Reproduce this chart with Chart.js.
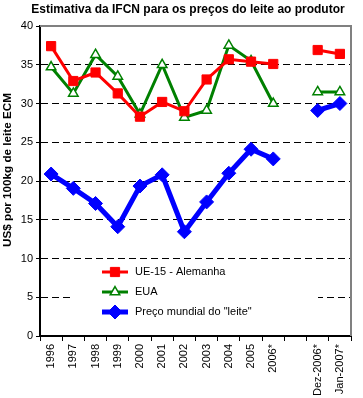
<!DOCTYPE html>
<html><head><meta charset="utf-8">
<script src="https://cdn.jsdelivr.net/npm/chart.js@4/dist/chart.umd.min.js"></script>
<style>html,body{margin:0;padding:0;background:#fff}#wrap{width:363px;height:398px}</style>
</head><body><div id="wrap"><canvas id="c" width="363" height="398"></canvas></div>
<script>
const categories = ['1996','1997','1998','1999','2000','2001','2002','2003','2004','2005','2006*','','Dez-2006*','Jan-2007*'];
const ue15 = [37.4,32.9,34.0,31.3,28.3,30.2,29.0,33.1,35.7,35.4,35.1,null,36.9,36.4];
const eua = [34.7,31.3,36.3,33.5,28.6,35.0,28.2,29.1,37.5,35.5,30.0,null,31.5,31.5];
const mundial = [20.9,19.05,17.1,14.1,19.35,20.8,13.45,17.3,21.0,24.1,22.85,null,29.1,30.0];
const seriesNames = ['UE-15 - Alemanha','EUA','Preço mundial do "leite"'];
const chartTitle = 'Estimativa da IFCN para os preços do leite ao produtor';
const yTitle = 'US$ por 100kg de leite ECM';

const FONT = 'Liberation Sans, Arial, sans-serif';

function drawMarker(ctx, style, r, x, y, fill, stroke, bw){
  ctx.save();
  ctx.fillStyle = fill; ctx.strokeStyle = stroke; ctx.lineWidth = bw; ctx.setLineDash([]);
  ctx.beginPath();
  if (style === 'rect'){ const s = Math.SQRT1_2*r; ctx.rect(x-s,y-s,2*s,2*s); }
  else if (style === 'triangle'){
    for (let k=0;k<3;k++){ const a = -Math.PI/2 + k*2*Math.PI/3; const px=x+r*Math.cos(a), py=y+r*Math.sin(a); k?ctx.lineTo(px,py):ctx.moveTo(px,py);} ctx.closePath();
  } else { ctx.moveTo(x,y-r); ctx.lineTo(x+r,y); ctx.lineTo(x,y+r); ctx.lineTo(x-r,y); ctx.closePath(); }
  ctx.fill(); if (bw>0) ctx.stroke();
  ctx.restore();
}

const framePlugin = {
  id:'frame',
  beforeDatasetsDraw(chart){
    const {ctx, chartArea:a} = chart;
    ctx.save();
    ctx.strokeStyle = '#808080'; ctx.lineWidth = 2;
    ctx.beginPath(); ctx.moveTo(a.left, a.top); ctx.lineTo(a.right, a.top); ctx.lineTo(a.right, a.bottom); ctx.stroke();
    // title
    ctx.fillStyle = '#000'; ctx.font = 'bold 12px ' + FONT; ctx.textAlign = 'center'; ctx.textBaseline = 'middle';
    ctx.fillText(chartTitle, 188, 9.5);
    // y title
    ctx.save();
    ctx.translate(8, 170); ctx.rotate(-Math.PI/2);
    ctx.font = 'bold 11.7px ' + FONT;
    ctx.fillText(yTitle, 0, 0);
    ctx.restore();
    // legend box
    const x0 = a.left + 33, y0 = a.top + 235;
    ctx.fillStyle = '#fff'; ctx.fillRect(x0, y0, 245, 72);
    chart.data.datasets.forEach((ds,i)=>{
      const cy = a.top + 246 + i*20;
      const lx1 = a.left + 62, lx2 = a.left + 88;
      ctx.strokeStyle = ds.borderColor; ctx.lineWidth = ds.borderWidth; ctx.setLineDash([]);
      ctx.beginPath(); ctx.moveTo(lx1, cy); ctx.lineTo(lx2, cy); ctx.stroke();
      drawMarker(ctx, ds.pointStyle, ds.pointRadius, (lx1+lx2)/2, cy, ds.pointBackgroundColor, ds.pointBorderColor, ds.pointBorderWidth);
      ctx.fillStyle = '#000'; ctx.font = '11px ' + FONT; ctx.textBaseline = 'middle'; ctx.textAlign = 'left';
      ctx.fillText(ds.label, a.left + 95, cy);
    });
    ctx.restore();
  }
};

new Chart(document.getElementById('c'), {
  type:'line',
  data:{
    labels: categories,
    datasets:[
      {label:seriesNames[0], data:ue15, borderColor:'#FF0000', backgroundColor:'#FF0000', borderWidth:3,
       pointStyle:'rect', pointRadius:6.5, pointBackgroundColor:'#FF0000', pointBorderColor:'#FF0000', pointBorderWidth:1, tension:0, spanGaps:false},
      {label:seriesNames[1], data:eua, borderColor:'#008000', backgroundColor:'#FFFFFF', borderWidth:3,
       pointStyle:'triangle', pointRadius:5.5, pointBackgroundColor:'#FFFFFF', pointBorderColor:'#008000', pointBorderWidth:1.5, tension:0, spanGaps:false},
      {label:seriesNames[2], data:mundial, borderColor:'#0000FF', backgroundColor:'#0000FF', borderWidth:5,
       pointStyle:'rectRot', pointRadius:7, pointBackgroundColor:'#0000FF', pointBorderColor:'#0000FF', pointBorderWidth:1, tension:0, spanGaps:false}
    ]
  },
  options:{
    responsive:false, devicePixelRatio:1, animation:false,
    layout:{padding:{left:0, right:12, top:26, bottom:0}},
    plugins:{
      legend:{display:false}, tooltip:{enabled:false}, title:{display:false}
    },
    scales:{
      x:{
        offset:true,
        grid:{display:true, drawOnChartArea:false, offset:true, tickLength:5, tickColor:'#000', color:'#000'},
        border:{color:'#000', width:2},
        ticks:{autoSkip:false, maxRotation:90, minRotation:90, color:'#000', font:{family:FONT, size:11}, padding:3},
        afterFit(s){ s.height = 62; }
      },
      y:{
        min:0, max:40,
        grid:{color:(c)=> (c.tick && (c.tick.value===0 || c.tick.value===40)) ? 'rgba(0,0,0,0)' : '#000',
              tickColor:'#000', tickLength:4, lineWidth:1, tickBorderDash:[]},
        border:{color:'#000', width:2, dash:[7,4]},
        ticks:{stepSize:5, color:'#000', font:{family:FONT, size:11}, padding:3},
        title:{display:false},
        afterFit(s){ s.width = 40; }
      }
    }
  },
  plugins:[framePlugin]
});
</script>
</body></html>
